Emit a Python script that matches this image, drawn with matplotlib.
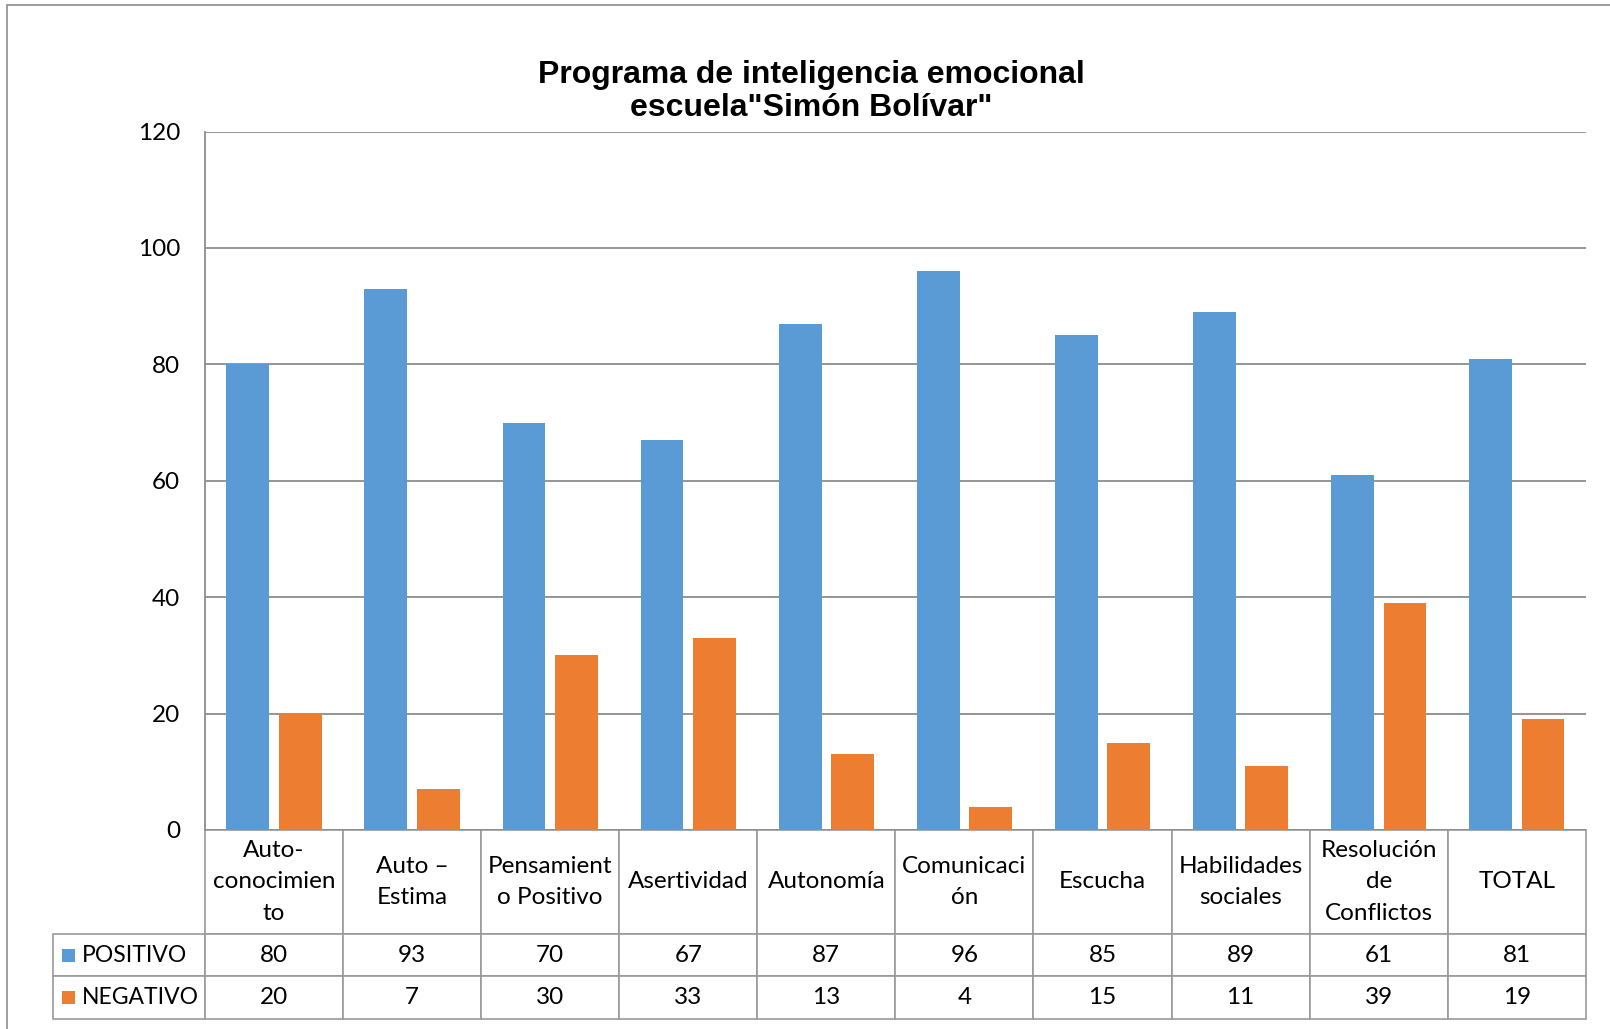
import matplotlib.pyplot as plt
import numpy as np
from matplotlib.patches import Rectangle

categories = ["Auto-\nconocimien\nto", "Auto –\nEstima", "Pensamient\no Positivo", "Asertividad",
              "Autonomía", "Comunicaci\nón", "Escucha", "Habilidades\nsociales",
              "Resolución\nde\nConflictos", "TOTAL"]
positivo = [80, 93, 70, 67, 87, 96, 85, 89, 61, 81]
negativo = [20, 7, 30, 33, 13, 4, 15, 11, 39, 19]
series_names = ["POSITIVO", "NEGATIVO"]
colors = ["#5B9BD5", "#ED7D31"]
yticks = [0, 20, 40, 60, 80, 100, 120]

txt_font = ["Lato", "DejaVu Sans"]

fig = plt.figure(figsize=(16.1, 10.29), dpi=100)
ax = fig.add_axes([0.1273, 0.1934, 0.8577, 0.6788])

# outer chart border
fig.patches.append(Rectangle((7 / 1610, -0.1), 1.2, 1.1 - 5 / 1029, transform=fig.transFigure,
                             fill=False, edgecolor="#8c8c8c", linewidth=1.2))

x = np.arange(len(categories))
w = 0.31
ax.bar(x - 0.19, positivo, w, color=colors[0], zorder=3)
ax.bar(x + 0.19, negativo, w, color=colors[1], zorder=3)

ax.set_xlim(-0.5, len(categories) - 0.5)
ax.set_ylim(0, 120)
ax.set_yticks(yticks)
ax.set_yticklabels([str(v) for v in yticks], fontsize=17.5, family=txt_font)
ax.tick_params(axis="y", length=0, pad=18)
ax.set_xticks([])
ax.grid(axis="y", color="#8c8c8c", linewidth=1.3, zorder=0)
for s in ["top", "right", "bottom"]:
    ax.spines[s].set_visible(False)
ax.spines["left"].set_color("#8c8c8c")
ax.spines["left"].set_linewidth(1.3)

# data table under the chart (bbox covers the data grid; row labels sit to its left)
cell_text = [[str(v) for v in positivo], [str(v) for v in negativo]]
tbl = ax.table(cellText=cell_text, rowLabels=series_names, colLabels=categories,
               cellLoc="center", rowLoc="left",
               bbox=[0, -0.2701, 1.0, 0.2701])
tbl.auto_set_font_size(False)
tbl._autoColumns = []  # keep the fixed width of the row label column
for (r, c), cell in tbl.get_celld().items():
    cell.set_edgecolor("#9a9a9a")
    cell.set_linewidth(1.2)
    cell.get_text().set_fontsize(16.5 if c == -1 else 17.5)
    cell.get_text().set_fontfamily(txt_font)
    cell.set_height(0.1489 if r == 0 else 0.0606)
    cell.set_width(0.110 if c == -1 else 0.1)
    if r == 0:
        cell.get_text().set_linespacing(1.6)
    if c == -1:
        cell.PAD = 0.19

# colour keys in the row labels
for i, col in enumerate(colors):
    yc = -0.1489 - 0.0606 * (i + 0.5)
    ax.add_patch(Rectangle((-0.1038, yc - 0.0095), 0.0097, 0.019, transform=ax.transAxes,
                           facecolor=col, edgecolor="none", clip_on=False))

fig.text(0.504, 0.911, "Programa de inteligencia emocional\nescuela\"Simón Bolívar\"",
         ha="center", va="center", fontsize=23, fontweight="bold",
         family=["Liberation Sans", "DejaVu Sans"], linespacing=1.15)

fig.savefig("out.png", dpi=100, facecolor="white")
